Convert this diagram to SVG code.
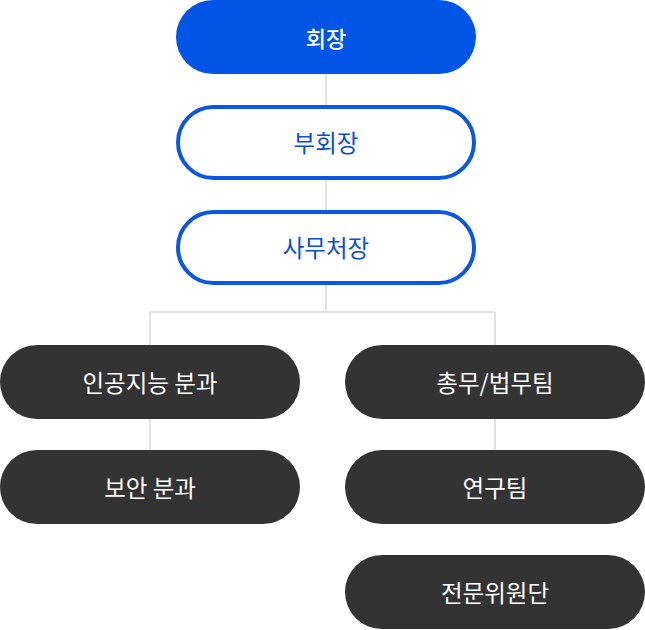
<svg xmlns="http://www.w3.org/2000/svg" width="645" height="630" viewBox="0 0 645 630">
<style>
.conn{fill:none;stroke:#d9d9d9;stroke-width:1.5}
.top{fill:#0055e6}
.outline{fill:#ffffff;stroke:#0a57e0;stroke-width:4}
.dark{fill:#333333}
text{font-family:"Noto Sans CJK KR","Noto Sans",sans-serif;font-size:23.5px;text-anchor:middle}
.tw{fill:#ffffff;font-weight:500;font-size:22px}
.tb{fill:#0a50c8}
.td{fill:#ffffff}
</style>
<rect width="645" height="630" fill="#ffffff"/>
<g id="connectors">
<path class="conn" d="M326 74V107M326 178V212M326 283V312M150 312H495M150 312V345M495 312V345M150 419V450M495 419V450"/>
</g>
<g id="n-chair"><rect class="top" x="176" y="0" width="300" height="74" rx="37"/><text class="tw" x="326" y="47">회장</text></g>
<g id="n-vice"><rect class="outline" x="178" y="107" width="296" height="71" rx="35.5"/><text class="tb" x="326" y="152">부회장</text></g>
<g id="n-secretary"><rect class="outline" x="178" y="212" width="296" height="71" rx="35.5"/><text class="tb" x="326" y="257">사무처장</text></g>
<g id="n-ai"><rect class="dark" x="0" y="345" width="300" height="74" rx="37"/><text class="td" x="150" y="392">인공지능 분과</text></g>
<g id="n-security"><rect class="dark" x="0" y="450" width="300" height="74" rx="37"/><text class="td" x="150" y="497">보안 분과</text></g>
<g id="n-general"><rect class="dark" x="345" y="345" width="300" height="74" rx="37"/><text class="td" x="495" y="392">총무/법무팀</text></g>
<g id="n-research"><rect class="dark" x="345" y="450" width="300" height="74" rx="37"/><text class="td" x="495" y="497">연구팀</text></g>
<g id="n-experts"><rect class="dark" x="345" y="555" width="300" height="74" rx="37"/><text class="td" x="495" y="602">전문위원단</text></g>
</svg>
